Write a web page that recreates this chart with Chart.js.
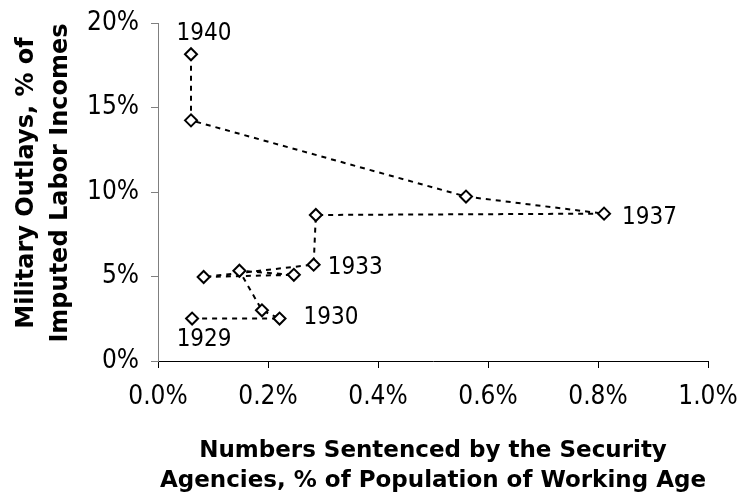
<!DOCTYPE html>
<html>
<head>
<meta charset="utf-8">
<title>Military outlays vs numbers sentenced</title>
<script src="https://cdn.jsdelivr.net/npm/chart.js@4.4.1/dist/chart.umd.min.js"></script>
<style>
  html, body { margin: 0; padding: 0; background: #fff; }
  #wrap { width: 741px; height: 496px; }
</style>
</head>
<body>
<div id="wrap"><canvas id="canvas1" width="741" height="496"></canvas></div>
<script>
  // data, 1929..1940
  const years    = ['1929','1930','1931','1932','1933','1934','1935','1936','1937','1938','1939','1940'];
  const sentenced = [0.062, 0.221, 0.189, 0.148, 0.247, 0.083, 0.283, 0.287, 0.811, 0.560, 0.060, 0.060]; // % of working-age pop
  const military  = [2.51, 2.51, 3.00, 5.34, 5.10, 4.97, 5.70, 8.64, 8.72, 9.73, 14.24, 18.15];        // % of labor incomes
  const labelled  = ['1929','1930','1933','1937','1940'];
  const xTicks = [0, 0.2, 0.4, 0.6, 0.8, 1.0];
  const yTicks = [0, 5, 10, 15, 20];
  const yTitle = ['Military Outlays, % of', 'Imputed Labor Incomes'];
  const xTitle = ['Numbers Sentenced by the Security', 'Agencies, % of Population of Working Age'];

  const fontFam  = "'DejaVu Sans Condensed', 'DejaVu Sans', sans-serif";
  const titleFam = "'DejaVu Sans', sans-serif";

  var puntos = [];
  for (var i = 0; i < years.length; i++) {
    puntos.push({x: sentenced[i], y: military[i]});
  }

  // where each year label sits relative to its marker (dx, dy, align)
  const labelPlace = {
    '1929': [12, 21, 'center'],
    '1930': [24, -1, 'left'],
    '1933': [34, -7, 'left'],
    '1937': [18, 4, 'left'],
    '1940': [13, -20, 'center']
  };

  const yearLabels = {
    id: 'yearLabels',
    afterDatasetsDraw(chart) {
      const ctx = chart.ctx;
      const meta = chart.getDatasetMeta(0);
      ctx.save();
      ctx.font = '24px ' + fontFam;
      ctx.fillStyle = '#000';
      ctx.textBaseline = 'middle';
      for (var i = 0; i < years.length; i++) {
        if (labelled.indexOf(years[i]) < 0) continue;
        const p = meta.data[i];
        const pl = labelPlace[years[i]] || [14, 0, 'left'];
        ctx.textAlign = pl[2];
        ctx.fillText(years[i], p.x + pl[0], p.y + pl[1]);
      }
      ctx.restore();
    }
  };

  // y title drawn by hand: in the original it sits a little above the plot centre
  const yTitlePlugin = {
    id: 'yTitlePlugin',
    afterDraw(chart) {
      const ctx = chart.ctx;
      ctx.save();
      ctx.font = 'bold 24px ' + titleFam;
      ctx.fillStyle = '#000';
      ctx.textAlign = 'center';
      ctx.textBaseline = 'alphabetic';
      ctx.translate(0, 183);
      ctx.rotate(-Math.PI / 2);
      ctx.fillText(yTitle[0], 0, 33);
      ctx.fillText(yTitle[1], 0, 67);
      ctx.restore();
    }
  };

  var myChart = new Chart(document.getElementById('canvas1'), {
    type: 'scatter',
    data: {
      datasets: [{
        data: puntos,
        showLine: true,
        borderColor: '#000',
        borderWidth: 2,
        borderDash: [5, 5],
        pointStyle: 'rectRot',
        pointRadius: 6,
        pointBackgroundColor: '#fff',
        pointBorderColor: '#000',
        pointBorderWidth: 2,
        tension: 0
      }]
    },
    options: {
      responsive: false,
      animation: false,
      layout: { padding: { left: 0, top: 23, right: 33, bottom: 0 } },
      plugins: {
        legend: { display: false },
        tooltip: { enabled: false }
      },
      scales: {
        x: {
          type: 'linear',
          min: 0, max: 1.0,
          afterBuildTicks: function(s) { s.ticks = xTicks.map(v => ({value: v})); },
          afterFit: function(s) { s.height = 135; s.paddingLeft = 0; s.paddingRight = 0; },
          border: { display: true, color: '#000', width: 1 },
          grid: { drawOnChartArea: false, drawTicks: true, tickLength: 7, color: '#000' },
          ticks: {
            color: '#000',
            padding: 14,
            font: { family: fontFam, size: 26 },
            callback: v => v.toFixed(1) + '%'
          },
          title: {
            display: true,
            text: xTitle,
            color: '#000',
            font: { family: titleFam, size: 23, weight: 'bold', lineHeight: 1.3 },
            padding: { top: 8, bottom: 0 }
          }
        },
        y: {
          type: 'linear',
          min: 0, max: 20,
          afterBuildTicks: function(s) { s.ticks = yTicks.map(v => ({value: v})); },
          afterFit: function(s) { s.width = 158; s.paddingTop = 0; s.paddingBottom = 0; },
          border: { display: true, color: '#7f7f7f', width: 1 },
          grid: { drawOnChartArea: false, drawTicks: true, tickLength: 7, color: '#7f7f7f' },
          ticks: {
            color: '#000',
            padding: 12,
            font: { family: fontFam, size: 26 },
            callback: v => v + '%'
          },
          title: { display: false }
        }
      }
    },
    plugins: [yearLabels, yTitlePlugin]
  });
</script>
</body>
</html>
